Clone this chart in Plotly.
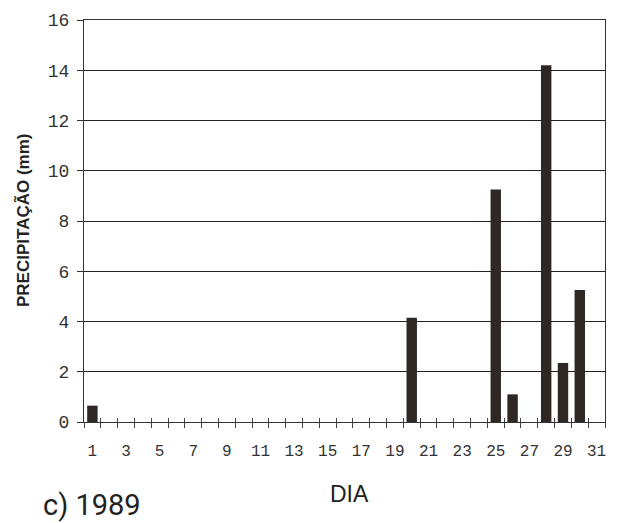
import plotly.graph_objects as go

days = [1, 20, 25, 26, 28, 29, 30]
precip = [0.65, 4.15, 9.25, 1.1, 14.2, 2.35, 5.25]
xtick_vals = list(range(1, 32, 2))
xtick_marks = [d + 0.5 for d in range(0, 32)]
ytick_vals = list(range(0, 17, 2))

bar_color = "#2f2723"
mono = "Liberation Mono"

fig = go.Figure()
fig.add_trace(go.Bar(x=days, y=precip, marker=dict(color=bar_color, line=dict(width=0)), width=0.62))
# empty helper trace so the overlay axis (inner half of the crossing ticks) is drawn
fig.add_trace(go.Scatter(x=[0.5, 31.5], y=[0, 0], xaxis="x2", mode="markers",
                         marker=dict(opacity=0), hoverinfo="skip"))

W, H = 621, 523
ml, mr, mt, mb = 84, 16, 20, 101
pw, ph = W - ml - mr, H - mt - mb

def px(x):
    return (x - ml) / pw

def py(y):
    return (H - mb - y) / ph

fig.update_layout(
    width=W, height=H,
    margin=dict(l=ml, r=mr, t=mt, b=mb),
    paper_bgcolor="white", plot_bgcolor="white",
    showlegend=False,
    xaxis=dict(
        range=[0.5, 31.5],
        tickvals=xtick_vals,
        ticktext=[str(v) for v in xtick_vals],
        ticks="",
        showgrid=False, zeroline=False,
        showline=True, linecolor="#333", linewidth=1, mirror=True,
        tickfont=dict(family=mono, size=16, color="#333"),
        ticklabelstandoff=14,
        minor=dict(tick0=0.5, dtick=1, ticks="outside", ticklen=5, tickcolor="#444", showgrid=False),
    ),
    xaxis2=dict(
        overlaying="x", anchor="y", side="bottom", range=[0.5, 31.5],
        tickvals=xtick_marks, ticks="inside", ticklen=4, tickcolor="#444",
        showticklabels=False, showgrid=False, zeroline=False, showline=False,
    ),
    yaxis=dict(
        range=[0, 16],
        tickvals=ytick_vals,
        ticks="outside", ticklen=6, tickcolor="#333",
        showgrid=True, gridcolor="#222", gridwidth=1,
        zeroline=False,
        showline=True, linecolor="#333", linewidth=1, mirror=True,
        tickfont=dict(family=mono, size=18, color="#333"),
        ticklabelstandoff=4,
    ),
    annotations=[
        dict(text="PRECIPITAÇÃO (mm)", textangle=-90, xref="paper", yref="paper",
             x=px(23), y=0.5, xanchor="center", yanchor="middle",
             showarrow=False, font=dict(family="Liberation Sans", size=17, color="#222", weight="bold")),
        dict(text="DIA", xref="paper", yref="paper",
             x=px(349), y=py(494),
             xanchor="center", yanchor="middle", showarrow=False,
             font=dict(family="Liberation Sans", size=23, color="#222")),
        dict(text="c) 1989", xref="paper", yref="paper",
             x=px(41), y=py(505),
             xanchor="left", yanchor="middle", showarrow=False,
             font=dict(family="Liberation Sans Narrow, Roboto", size=29, color="#222")),
    ],
)

fig.write_html("out.html")
